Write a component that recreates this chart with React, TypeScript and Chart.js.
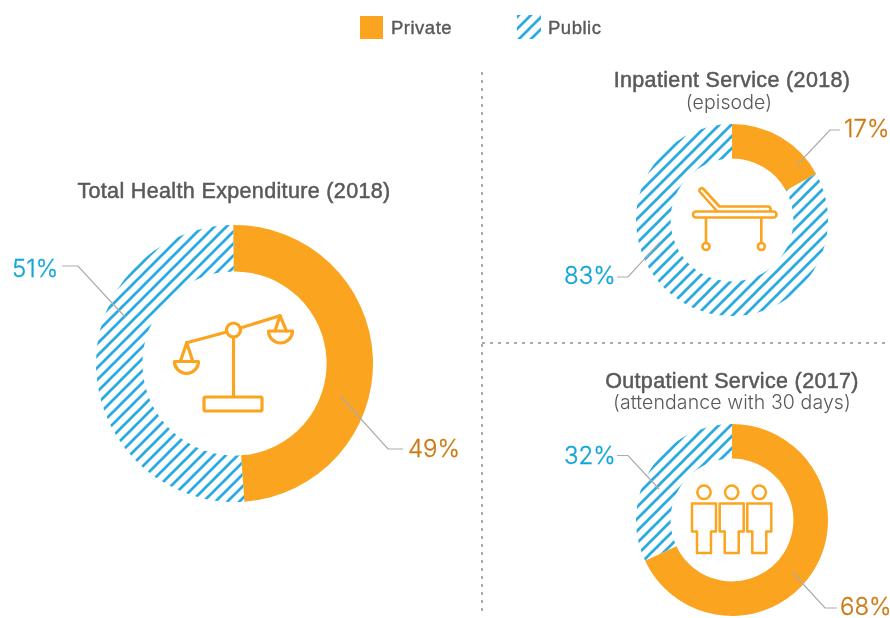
import React, { useEffect, useRef } from "react";
import { Chart, registerables } from "chart.js";

Chart.register(...registerables);

const categories = ["Private", "Public"];
const totalHealthValues = [49, 51];
const inpatientValues = [17, 83];
const outpatientValues = [68, 32];

const ORANGE = "#FBA41F";
const BLUE = "#29ABE2";
const LABEL_BLUE = "#12A5D8";
const LABEL_ORANGE = "#CC7A14";
const TITLE_GREY = "#58595B";
const LINE_GREY = "#ABABAB";

const TITLE_FONT = '"Liberation Sans", Arial, sans-serif';
const LIGHT_FONT = 'Inter, "Liberation Sans", sans-serif';

function makeHatch(ctx: CanvasRenderingContext2D): CanvasPattern {
  const size = 12;
  const tile = document.createElement("canvas");
  tile.width = size;
  tile.height = size;
  const t = tile.getContext("2d")!;
  t.strokeStyle = BLUE;
  t.lineWidth = 2.7;
  for (const o of [-size, 0, size]) {
    t.beginPath();
    t.moveTo(o - 2, size + 2);
    t.lineTo(o + size + 2, -2);
    t.stroke();
  }
  return ctx.createPattern(tile, "repeat")!;
}

function Donut(props: {
  values: number[];
  left: number;
  top: number;
  size: number;
  cutout: string;
  rotation?: number;
}) {
  const ref = useRef<HTMLCanvasElement>(null);
  useEffect(() => {
    const canvas = ref.current!;
    const ctx = canvas.getContext("2d")!;
    const chart = new Chart(ctx, {
      type: "doughnut",
      data: {
        labels: categories,
        datasets: [
          {
            data: props.values,
            backgroundColor: [ORANGE, makeHatch(ctx)],
            borderWidth: 0,
          },
        ],
      },
      options: {
        animation: false,
        responsive: false,
        maintainAspectRatio: false,
        cutout: props.cutout,
        rotation: props.rotation ?? 0,
        layout: { padding: 0 },
        events: [],
        plugins: { legend: { display: false }, tooltip: { enabled: false } },
      },
    });
    return () => chart.destroy();
  }, []);
  return (
    <canvas
      ref={ref}
      width={props.size}
      height={props.size}
      style={{ position: "absolute", left: props.left, top: props.top, width: props.size, height: props.size }}
    />
  );
}

function Text(props: {
  x: number;
  y: number;
  text: string;
  size: number;
  color: string;
  font: string;
  weight?: number;
  stroke?: number;
  spacing?: number;
  anchor?: "left" | "center";
}) {
  const center = props.anchor === "center";
  return (
    <div
      style={{
        position: "absolute",
        left: props.x,
        top: props.y,
        transform: center ? "translate(-50%,-50%)" : "translateY(-50%)",
        fontFamily: props.font,
        fontSize: props.size,
        fontWeight: props.weight ?? 400,
        letterSpacing: props.spacing ?? 0,
        color: props.color,
        whiteSpace: "nowrap",
        lineHeight: 1,
        WebkitTextStroke: props.stroke ? `${props.stroke}px ${props.color}` : undefined,
      }}
    >
      {props.text}
    </div>
  );
}

function People() {
  return (
    <g fill="none" stroke={ORANGE} strokeWidth={2.5}>
      {[704, 731.7, 759.3].map((c) => (
        <g key={c}>
          <circle cx={c} cy={492.3} r={6.7} />
          <path
            d={`M${c - 12} 503.5H${c + 12}V531.5H${c + 7}V553H${c - 7}V531.5H${c - 12}Z`}
            strokeLinejoin="round"
          />
        </g>
      ))}
    </g>
  );
}

function Overlay() {
  return (
    <svg width={890} height={618} style={{ position: "absolute", left: 0, top: 0 }}>
      <defs>
        <pattern id="legendHatch" width="12" height="12" patternUnits="userSpaceOnUse" x="517" y="17">
          <path d="M-2 14L14 -2M-14 14L2 -2M10 14L26 -2" stroke={BLUE} strokeWidth="2.7" />
        </pattern>
      </defs>
      <rect x={360} y={16} width={23} height={23} fill={ORANGE} />
      <rect x={517} y={15} width={24} height={24} fill="url(#legendHatch)" />

      <g stroke="#ABABAB" strokeWidth={2} strokeDasharray="3 5" fill="none">
        <path d="M482 72V612" />
        <path d="M482 343H886" />
      </g>

      <g stroke={LINE_GREY} strokeWidth={1.2} fill="none">
        <path d="M62 266H78L125 317" />
        <path d="M341 397L388 449H403" />
        <path d="M617 277H628L660 242" />
        <path d="M840 130H830L797 165" />
        <path d="M617 455.5H628L659 489" />
        <path d="M837 608H825L793 573" />
      </g>

      <g fill="none" stroke={ORANGE} strokeWidth={3.2} strokeLinejoin="round" strokeLinecap="round">
        <circle cx={233.5} cy={330} r={7} />
        <path d="M186.7 342.7L226.7 332M240.3 328L280 315.7" />
        <path d="M233.5 337V396" />
        <rect x={204} y={397} width={58} height={14} rx={1.5} />
        <path d="M180.5 361L186.7 342.7L192.7 361" />
        <path d="M174.5 361.5H198.5A12 12 0 0 1 174.5 361.5Z" />
        <path d="M275 331L280 315.7L286.5 331" />
        <path d="M268.5 331H292.5A12 12 0 0 1 268.5 331Z" />
      </g>

      <g fill="none" stroke={ORANGE} strokeWidth={2.6} strokeLinejoin="round" strokeLinecap="round">
        <rect x={693} y={211.5} width={83.5} height={6} rx={3} />
        <path d="M716.5 210.5L699.5 191.5Q699 189.5 700.5 188.5Q702 187.5 703.5 189L719.5 206.5H768Q770.5 206.5 770.5 209V211" />
        <path d="M706 218V243M761.3 218V243" />
        <circle cx={706} cy={246.5} r={3.5} />
        <circle cx={761.3} cy={246.5} r={3.5} />
      </g>

      <People />
    </svg>
  );
}

export default function App() {
  const title = { size: 21.5, color: TITLE_GREY, font: TITLE_FONT, stroke: 0.5, spacing: 0.35, anchor: "center" as const };
  const sub = { size: 19.5, color: TITLE_GREY, font: LIGHT_FONT, weight: 300, spacing: 0.1, anchor: "center" as const };
  const legend = { size: 18.5, color: TITLE_GREY, font: TITLE_FONT, stroke: 0.4, spacing: 0.5 };
  const pct = { size: 24, font: LIGHT_FONT, weight: 300, spacing: 0, stroke: 0.3 };
  return (
    <div style={{ position: "absolute", left: 0, top: 0, width: 890, height: 618, overflow: "hidden", background: "#fff" }}>
      <Donut values={totalHealthValues} left={96} top={225} size={277} cutout="66.5%" rotation={-0.5} />
      <Donut values={inpatientValues} left={636} top={124} size={192} cutout="64%" />
      <Donut values={outpatientValues} left={636} top={424} size={192} cutout="64%" />
      <Overlay />

      <Text x={391} y={28} text="Private" {...legend} />
      <Text x={548} y={28} text="Public" {...legend} />

      <Text x={234} y={192} text="Total Health Expenditure (2018)" {...title} />
      <Text x={732} y={81} text="Inpatient Service (2018)" {...title} />
      <Text x={729} y={103} text="(episode)" {...sub} />
      <Text x={732} y={382} text="Outpatient Service (2017)" {...title} />
      <Text x={732} y={403} text="(attendance with 30 days)" {...sub} />

      <Text x={12} y={269} text="51%" color={LABEL_BLUE} {...pct} />
      <Text x={408} y={449} text="49%" color={LABEL_ORANGE} {...pct} />
      <Text x={564} y={276} text="83%" color={LABEL_BLUE} {...pct} />
      <Text x={844} y={129} text="17%" color={LABEL_ORANGE} {...pct} />
      <Text x={564} y={456} text="32%" color={LABEL_BLUE} {...pct} />
      <Text x={840} y={607} text="68%" color={LABEL_ORANGE} {...pct} />
    </div>
  );
}
